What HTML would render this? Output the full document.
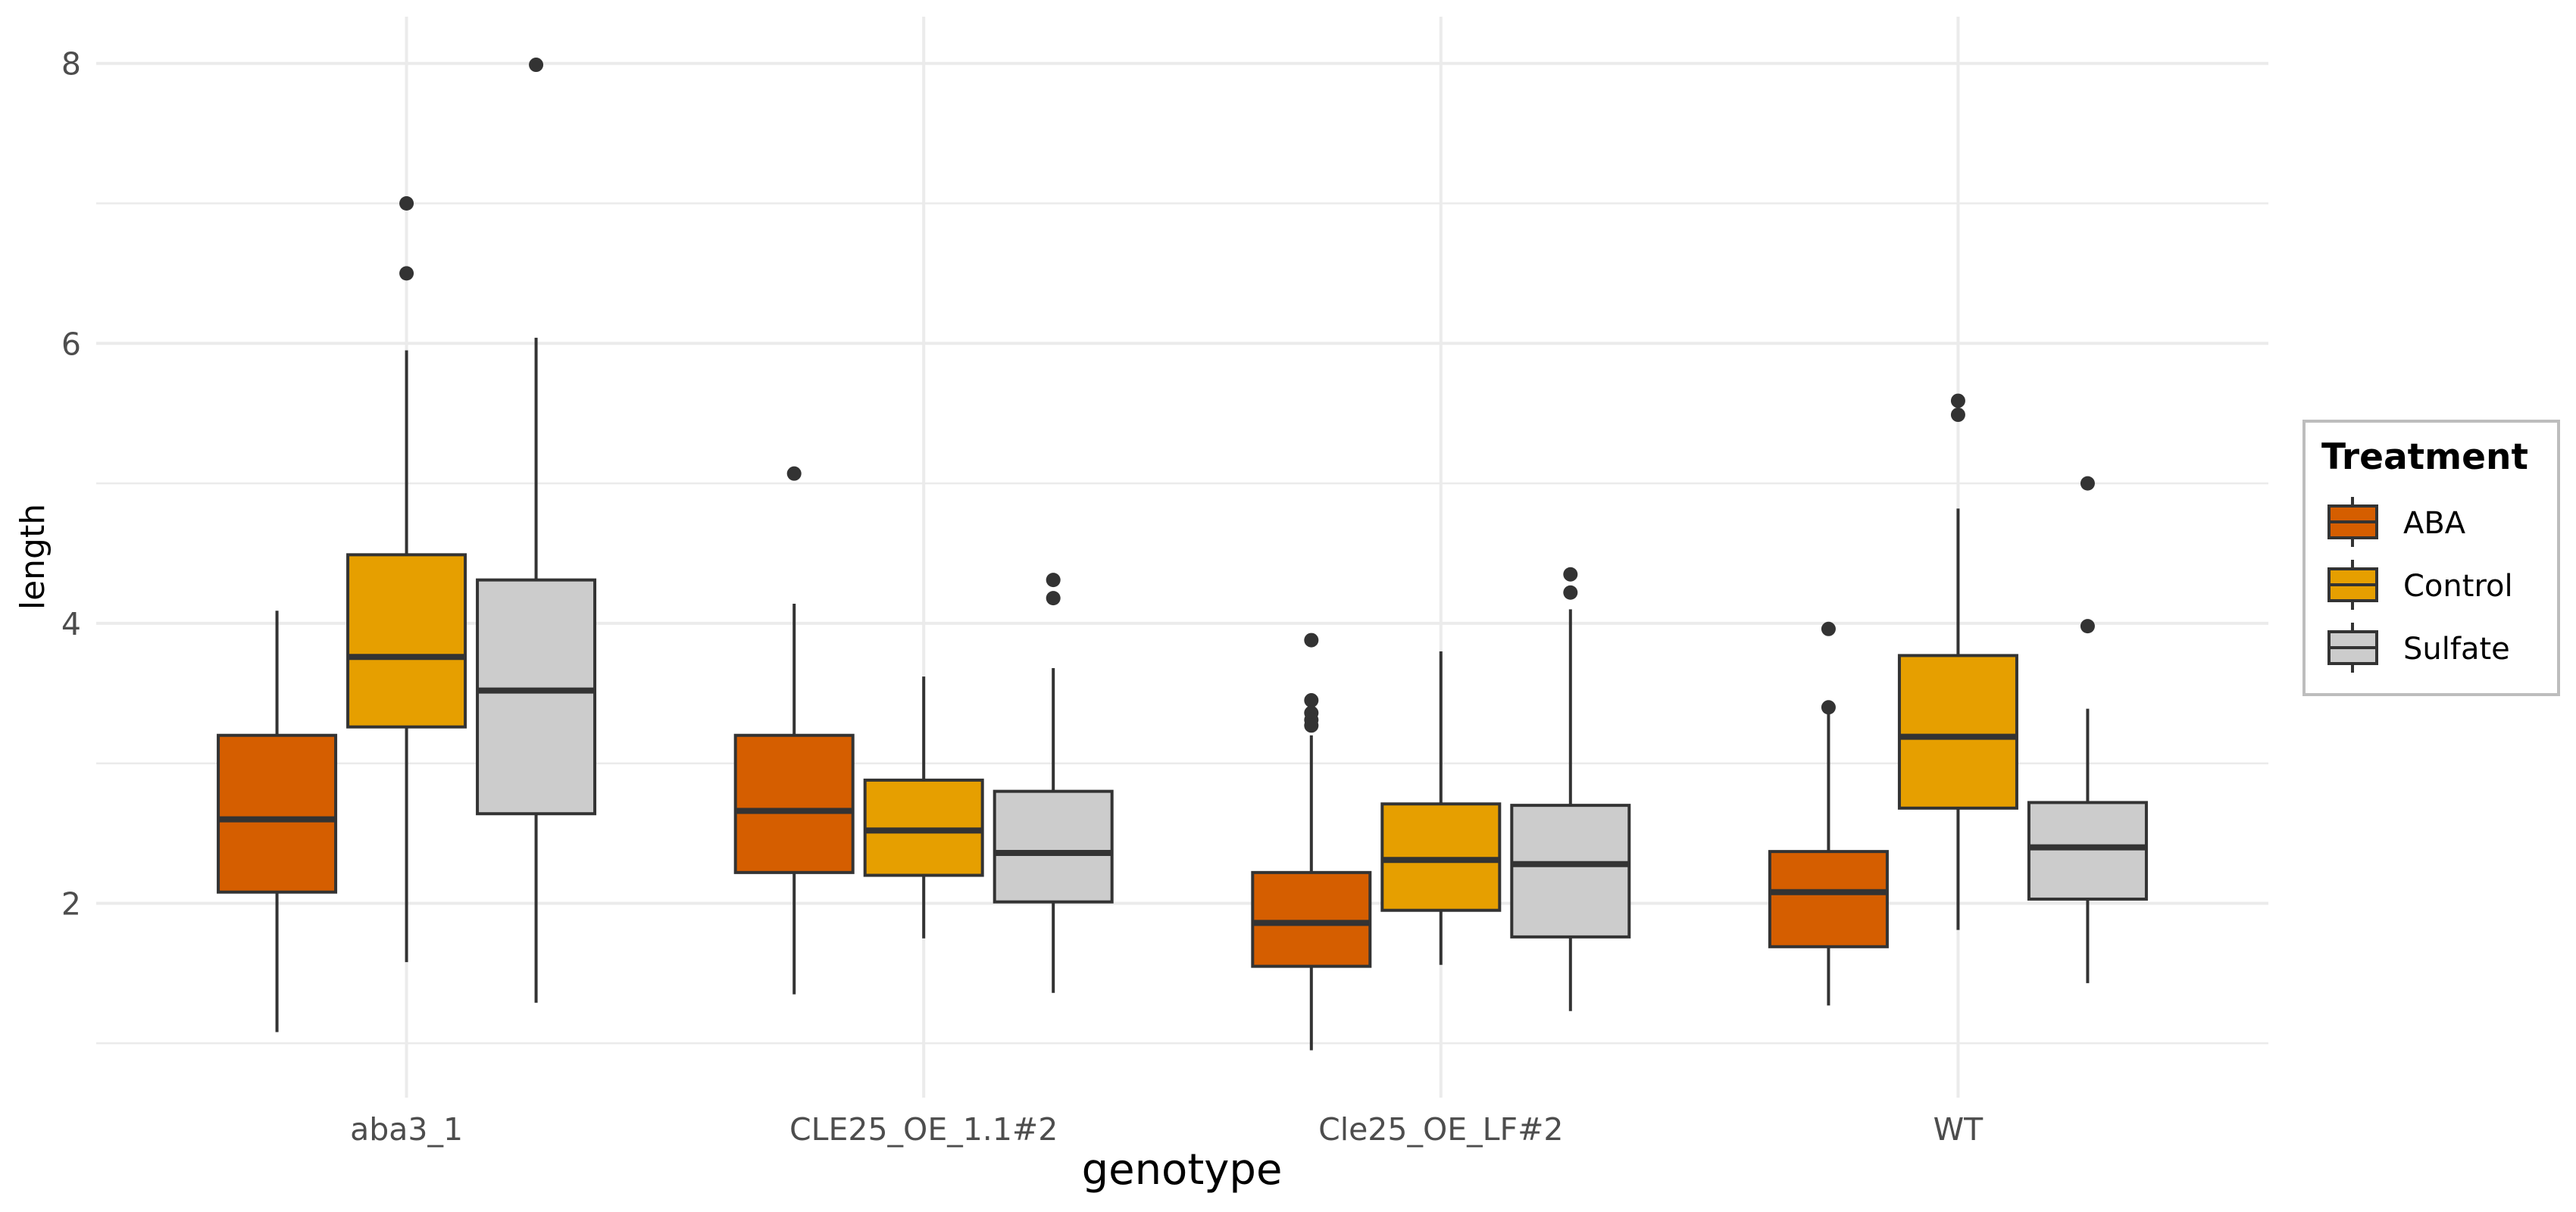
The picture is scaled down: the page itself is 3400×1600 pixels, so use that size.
<!DOCTYPE html>
<html><head><meta charset="utf-8"><style>
html,body{margin:0;padding:0;background:#fff;}
svg{display:block;font-family:"DejaVu Sans","Liberation Sans",sans-serif;}
</style></head><body>
<svg id="chart" width="3400" height="1600" viewBox="0 0 3400 1600" xmlns="http://www.w3.org/2000/svg">
<g id="grid"></g>
<g id="marks"></g>
<g id="axes"></g>
<text x="1560" y="1563" font-size="56" text-anchor="middle" fill="#000">genotype</text>
<text transform="translate(58,735) rotate(-90)" font-size="44" text-anchor="middle" fill="#000">length</text>
<g>
<rect x="3041" y="556" width="336" height="361" fill="#fff" stroke="#bdbdbd" stroke-width="4"/>
<text x="3064" y="619" font-size="47" font-weight="bold" fill="#000">Treatment</text>
<g id="legendEntries"></g>
</g>
</svg>
<script>
const categories = ["aba3_1","CLE25_OE_1.1#2","Cle25_OE_LF#2","WT"];
const treatments = ["ABA","Control","Sulfate"];
const fills = ["#D55E00","#E69F00","#CCCCCC"];
const yTicks = [2,4,6,8];
const yMinor = [1,3,5,7];
// per group, per treatment: [lowWhisker, Q1, median, Q3, highWhisker]
const statsABA = [[1.08,2.08,2.60,3.20,4.09],[1.35,2.22,2.66,3.20,4.14],[0.95,1.55,1.86,2.22,3.20],[1.27,1.69,2.08,2.37,3.36]];
const statsControl = [[1.58,3.26,3.76,4.49,5.95],[1.75,2.20,2.52,2.88,3.62],[1.56,1.95,2.31,2.71,3.80],[1.81,2.68,3.19,3.77,4.82]];
const statsSulfate = [[1.29,2.64,3.52,4.31,6.04],[1.36,2.01,2.36,2.80,3.68],[1.23,1.76,2.28,2.70,4.10],[1.43,2.03,2.40,2.72,3.39]];
const outABA = [[],[5.07],[3.88,3.45,3.36,3.31,3.27],[3.96,3.40]];
const outControl = [[7.0,6.5],[],[],[5.59,5.49]];
const outSulfate = [[7.99],[4.31,4.18],[4.35,4.22],[5.0,3.98]];
const allStats=[statsABA,statsControl,statsSulfate];
const allOut=[outABA,outControl,outSulfate];

const NS="http://www.w3.org/2000/svg";
const plotLeft=127,plotRight=2994,plotTop=22,plotBottom=1449;
const step=(plotRight-plotLeft)/(categories.length-1+1.2);
function xCat(i){return plotLeft+step*(0.6+i);}
function yScale(v){return 1192.5-(v-2)*184.8;}
const dodge=171,bw=155;
function mk(tag,attrs,parent){const e=document.createElementNS(NS,tag);for(const k in attrs)e.setAttribute(k,attrs[k]);parent.appendChild(e);return e;}
const gridG=document.getElementById('grid'),marksG=document.getElementById('marks'),axesG=document.getElementById('axes');
yMinor.forEach(v=>{const l=mk('line',{x1:plotLeft,x2:plotRight,y1:yScale(v),y2:yScale(v),stroke:'#ebebeb','stroke-width':2.5},gridG);

});
yTicks.forEach(v=>{const l=mk('line',{x1:plotLeft,x2:plotRight,y1:yScale(v),y2:yScale(v),stroke:'#ebebeb','stroke-width':4},gridG);


const t=mk('text',{x:107,y:yScale(v)+15,'font-size':41,'text-anchor':'end',fill:'#4d4d4d'},axesG);t.textContent=v;

});
categories.forEach((c,i)=>{const l=mk('line',{x1:xCat(i),x2:xCat(i),y1:plotTop,y2:plotBottom,stroke:'#ebebeb','stroke-width':4},gridG);


const t=mk('text',{x:xCat(i),y:1505,'font-size':41,'text-anchor':'middle',fill:'#4d4d4d'},axesG);t.textContent=c;

});
categories.forEach((c,i)=>{treatments.forEach((tr,j)=>{
 const s=allStats[j][i];const cx=xCat(i)+(j-1)*dodge;
 const g=mk('g',{},marksG);
 
 
 mk('line',{x1:cx,x2:cx,y1:yScale(s[0]),y2:yScale(s[1]),stroke:'#333','stroke-width':4},g);
 mk('line',{x1:cx,x2:cx,y1:yScale(s[3]),y2:yScale(s[4]),stroke:'#333','stroke-width':4},g);
 mk('rect',{x:cx-bw/2,y:yScale(s[3]),width:bw,height:yScale(s[1])-yScale(s[3]),fill:fills[j],stroke:'#333','stroke-width':4},g);
 mk('line',{x1:cx-bw/2,x2:cx+bw/2,y1:yScale(s[2]),y2:yScale(s[2]),stroke:'#333','stroke-width':8},g);
 allOut[j][i].forEach(o=>{const d=mk('circle',{cx:cx,cy:yScale(o),r:9.5,fill:'#333'},g);
 
 });
});});
const le=document.getElementById('legendEntries');
const keyY=[689,772,855];
treatments.forEach((tr,j)=>{const g=mk('g',{},le);
 
 
 const cy=keyY[j];
 mk('line',{x1:3105,x2:3105,y1:cy-33,y2:cy+33,stroke:'#333','stroke-width':4},g);
 mk('rect',{x:3074,y:cy-21,width:63,height:42,fill:fills[j],stroke:'#333','stroke-width':4},g);
 mk('line',{x1:3074,x2:3137,y1:cy,y2:cy,stroke:'#333','stroke-width':4},g);
 const t=mk('text',{x:3172,y:cy+15,'font-size':40,fill:'#000'},g);t.textContent=tr;});
</script>
</body></html>
